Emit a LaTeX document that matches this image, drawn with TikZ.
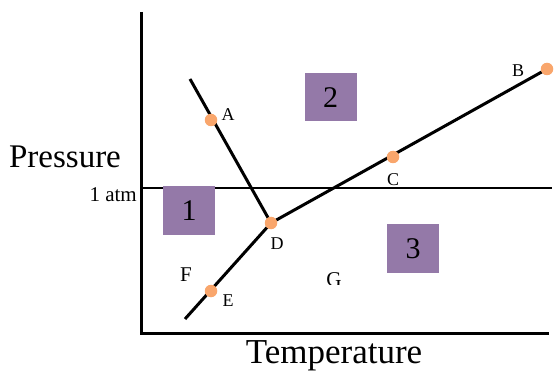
\documentclass[tikz,border=0pt]{standalone}
\usepackage{fontspec}
\setmainfont{Liberation Serif}
\usepackage{xcolor}
\definecolor{regionpurple}{RGB}{148, 121, 168}
\definecolor{pointorange}{RGB}{249, 166, 108}
\usepackage{tikz}
\usetikzlibrary{positioning, calc}

\tikzset{
  region/.style={fill=regionpurple, minimum width=52pt, minimum height=48pt, inner sep=0pt,
    font=\fontsize{30}{30}\selectfont},
  dot/.style={circle, fill=pointorange, minimum size=12.5pt, inner sep=0pt},
  ptlabel/.style={font=\fontsize{18}{18}\selectfont, inner sep=0pt},
  boundary/.style={line width=3pt}
}

\begin{document}
\begin{tikzpicture}[x=1pt, y=-1pt]
  \useasboundingbox (0,0) rectangle (554,374);

  % Axes
  \coordinate (origin) at (141,333);
  \coordinate (ytop) at (141,12);
  \coordinate (xend) at (549,333);
  \draw[line width=3pt] (ytop) -- (origin) -- (xend);
  \node[font=\fontsize{33}{33}\selectfont] (plabel) at (65,157) {Pressure};
  \node[font=\fontsize{35}{35}\selectfont] (tlabel) at (334,356) {Temperature};

  % 1 atm line
  \coordinate (atmL) at (141,188);
  \coordinate (atmR) at (552,188);
  \draw[line width=1.5pt] (atmL) -- (atmR);
  \node[font=\fontsize{21}{21}\selectfont, anchor=east, inner sep=0pt] (atm) at (137,195) {1 atm};

  % Regions
  \node[region] (r1) at (189,210.5) {1};
  \node[region] (r2) at (330.5,97.5) {2};
  \node[region] (r3) at (413,248.5) {3};

  % Phase boundaries
  \coordinate (top) at (190,79);
  \coordinate (low) at (185,319);
  \coordinate (A) at (211,120);
  \coordinate (B) at (547,69);
  \coordinate (C) at (393,157);
  \coordinate (D) at (271,223);
  \coordinate (E) at (211,291);
  \draw[boundary] (top) -- (D);
  \draw[boundary] (low) -- (D);
  \draw[boundary] (D) -- (B);

  % Points
  \foreach \p in {A,B,C,D,E}
    \node[dot] (dot\p) at (\p) {};

  \node[ptlabel] (lA) at (228,115) {A};
  \node[ptlabel] (lB) at (518,71) {B};
  \node[ptlabel] (lC) at (393,180) {C};
  \node[ptlabel] (lD) at (277,244) {D};
  \node[ptlabel] (lE) at (228,301) {E};
  \node[font=\fontsize{21}{21}\selectfont, inner sep=0pt] (lF) at (186,275) {F};
  \begin{scope}
    \clip (300,250) rectangle (370,284);
    \node[font=\fontsize{21}{21}\selectfont, inner sep=0pt, anchor=base] (lG) at (334,286) {G};
  \end{scope}

\end{tikzpicture}
\end{document}
